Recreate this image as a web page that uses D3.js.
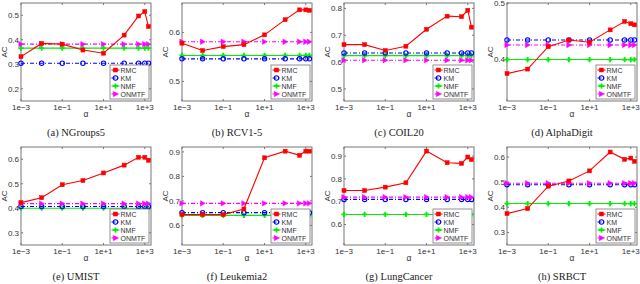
<!DOCTYPE html>
<html>
<head>
<meta charset="utf-8">
<script src="https://cdn.jsdelivr.net/npm/d3@7"></script>
<style>
  body { margin: 0; background: #fff; }
  svg { display: block; }
</style>
</head>
<body>
<div id="chart"></div>
<script>
// values
const alphas = [1e-3, 1e-2, 1e-1, 1, 10, 100, 500, 1000, 1500];
const xTicks = [1e-3, 1e-1, 1e1, 1e3];
const xTickLabels = ["1e\u22123", "1e\u22121", "1e+1", "1e+3"];
const captions = ["(a)  NGroups5", "(b)  RCV1-5", "(c)  COIL20", "(d)  AlphaDigit",
                  "(e)  UMIST", "(f)  Leukemia2", "(g)  LungCancer", "(h)  SRBCT"];
const yLims = [[0.15, 0.55], [0.46, 0.66], [0.455, 0.82], [0.325, 0.5],
               [0.25, 0.65], [0.52, 0.92], [0.51, 0.94], [0.25, 0.64]];
const yTicks = [[0.2, 0.3, 0.4, 0.5], [0.5, 0.6], [0.5, 0.6, 0.7, 0.8], [0.4, 0.5],
                [0.3, 0.4, 0.5, 0.6], [0.6, 0.7, 0.8, 0.9], [0.6, 0.7, 0.8, 0.9], [0.3, 0.4, 0.5, 0.6]];
const rmc = [
  [0.331, 0.385, 0.382, 0.358, 0.345, 0.419, 0.497, 0.515, 0.454],
  [0.578, 0.563, 0.571, 0.575, 0.595, 0.626, 0.646, 0.646, 0.645],
  [0.665, 0.665, 0.643, 0.659, 0.722, 0.771, 0.769, 0.793, 0.730],
  [0.374, 0.382, 0.422, 0.434, 0.430, 0.452, 0.467, 0.463, 0.461],
  [0.423, 0.443, 0.496, 0.513, 0.544, 0.576, 0.608, 0.608, 0.596],
  [0.644, 0.644, 0.644, 0.667, 0.876, 0.903, 0.886, 0.903, 0.903],
  [0.749, 0.749, 0.764, 0.783, 0.922, 0.871, 0.868, 0.896, 0.885],
  [0.375, 0.395, 0.484, 0.505, 0.545, 0.620, 0.591, 0.596, 0.583]
];
const km    = [0.304, 0.546, 0.634, 0.434, 0.407, 0.652, 0.710, 0.490];
const nmf   = [0.366, 0.553, 0.624, 0.399, 0.400, 0.641, 0.644, 0.415];
const onmtf = [0.382, 0.581, 0.607, 0.425, 0.419, 0.690, 0.720, 0.496];
const seriesNames = ["RMC", "KM", "NMF", "ONMTF"];

const W = 640, H = 284;
const boxLeft = [21, 182, 344, 507];
const boxTop = [3, 147];
const boxW = 130, boxH = 98;

const styles = {
  RMC:   { color: "#ff0000", dash: null,      marker: "square" },
  KM:    { color: "#0000ff", dash: "4,2,1,2", marker: "circle" },
  NMF:   { color: "#00ee00", dash: null,      marker: "plus" },
  ONMTF: { color: "#ff00ff", dash: "4,2,1,2", marker: "triangle" }
};

const svg = d3.select("#chart").append("svg")
  .attr("width", W).attr("height", H)
  .style("font-family", "'Liberation Sans', Arial, sans-serif");

function drawMarker(g, type, color, x, y) {
  if (type === "square") {
    g.append("rect").attr("x", x - 2).attr("y", y - 2).attr("width", 4).attr("height", 4)
      .attr("fill", color).attr("stroke", color).attr("stroke-width", 0.5);
  } else if (type === "circle") {
    g.append("circle").attr("cx", x).attr("cy", y).attr("r", 2.2)
      .attr("fill", "none").attr("stroke", color).attr("stroke-width", 1.1);
  } else if (type === "plus") {
    g.append("path").attr("d", `M${x - 2.6},${y}L${x + 2.6},${y}M${x},${y - 2.6}L${x},${y + 2.6}`)
      .attr("stroke", color).attr("stroke-width", 1.8);
  } else {
    g.append("path").attr("d", `M${x - 2.2},${y - 2.7}L${x + 2.7},${y}L${x - 2.2},${y + 2.7}Z`)
      .attr("fill", color).attr("stroke", color).attr("stroke-width", 0.5);
  }
}

captions.forEach((cap, i) => {
  const col = i % 4, row = Math.floor(i / 4);
  const left = boxLeft[col], top = boxTop[row];
  const g = svg.append("g").attr("transform", `translate(${left},${top})`);

  const x = d3.scaleLog().domain([1e-3, 2000]).range([0, boxW]);
  const y = d3.scaleLinear().domain(yLims[i]).range([boxH, 0]);

  // frame
  g.append("rect").attr("width", boxW).attr("height", boxH)
    .attr("fill", "#fff").attr("stroke", "#777").attr("stroke-width", 1);

  // ticks, inward on all four sides
  xTicks.forEach(t => {
    g.append("line").attr("x1", x(t)).attr("x2", x(t)).attr("y1", boxH).attr("y2", boxH - 2).attr("stroke", "#777");
    g.append("line").attr("x1", x(t)).attr("x2", x(t)).attr("y1", 0).attr("y2", 2).attr("stroke", "#777");
  });
  yTicks[i].forEach(t => {
    g.append("line").attr("x1", 0).attr("x2", 2).attr("y1", y(t)).attr("y2", y(t)).attr("stroke", "#777");
    g.append("line").attr("x1", boxW).attr("x2", boxW - 2).attr("y1", y(t)).attr("y2", y(t)).attr("stroke", "#777");
  });

  g.selectAll(".xl").data(xTicks).enter().append("text")
    .attr("x", d => x(d)).attr("y", boxH + 8.5)
    .attr("text-anchor", "middle").attr("font-size", 8).attr("fill", "#333")
    .text((d, k) => xTickLabels[k]);

  g.selectAll(".yl").data(yTicks[i]).enter().append("text")
    .attr("x", -2).attr("y", d => y(d) + 2.8)
    .attr("text-anchor", "end").attr("font-size", 8).attr("fill", "#333")
    .text(d => d3.format(".1f")(d));

  g.append("text").attr("x", boxW / 2).attr("y", boxH + 16)
    .attr("text-anchor", "middle").attr("font-size", 8.5).attr("fill", "#333").text("\u03b1");

  g.append("text").attr("transform", `translate(-14,${boxH / 2}) rotate(-90)`)
    .attr("text-anchor", "middle").attr("font-size", 8).attr("fill", "#333").text("AC");

  g.append("text").attr("x", boxW / 2 - 10).attr("y", boxH + 34.5)
    .attr("text-anchor", "middle").attr("font-size", 10.5).attr("fill", "#222")
    .style("font-family", "'Liberation Serif', 'Times New Roman', serif")
    .text(cap);

  // series
  const vals = {
    RMC: rmc[i],
    KM: alphas.map(() => km[i]),
    NMF: alphas.map(() => nmf[i]),
    ONMTF: alphas.map(() => onmtf[i])
  };
  const line = d3.line().x((d, k) => x(alphas[k])).y(d => y(d));
  ["NMF", "KM", "ONMTF", "RMC"].forEach(name => {
    const s = styles[name];
    g.append("path").attr("d", line(vals[name]))
      .attr("fill", "none").attr("stroke", s.color).attr("stroke-width", 1.1)
      .attr("stroke-dasharray", s.dash);
    vals[name].forEach((v, k) => drawMarker(g, s.marker, s.color, x(alphas[k]), y(v)));
  });

  // legend
  const lw = 39, lh = 34;
  const lg = g.append("g").attr("transform", `translate(${boxW - lw - 2},${boxH - lh - 2})`);
  lg.append("rect").attr("width", lw).attr("height", lh)
    .attr("fill", "#fff").attr("stroke", "#777").attr("stroke-width", 0.8);
  seriesNames.forEach((name, k) => {
    const s = styles[name];
    const ly = 5 + k * 8;
    lg.append("line").attr("x1", 1.5).attr("x2", 9.5).attr("y1", ly).attr("y2", ly)
      .attr("stroke", s.color).attr("stroke-width", 1.1).attr("stroke-dasharray", s.dash);
    drawMarker(lg, s.marker, s.color, 5.5, ly);
    lg.append("text").attr("x", 10.5).attr("y", ly + 2.6)
      .attr("font-size", 7).attr("fill", "#333").text(name);
  });
});
</script>
</body>
</html>
